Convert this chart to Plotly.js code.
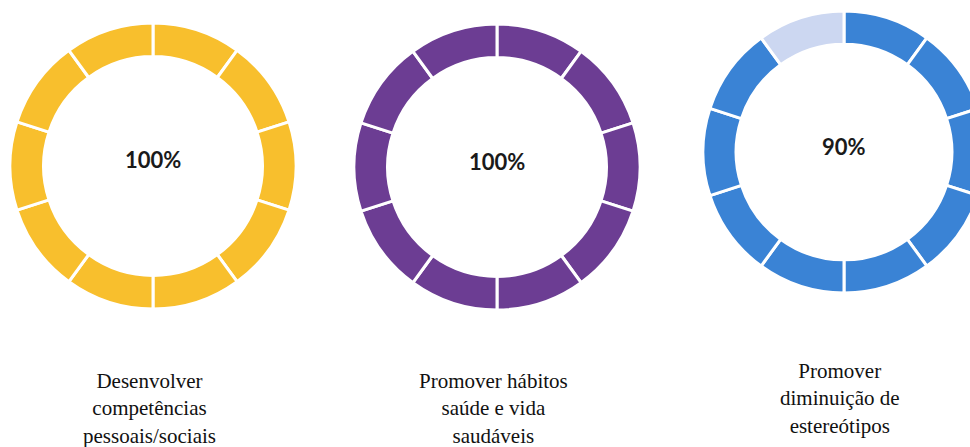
<!DOCTYPE html>
<html>
<head>
<meta charset="utf-8">
<script src="https://cdn.plot.ly/plotly-3.0.1.min.js"></script>
<style>
  html, body { margin: 0; padding: 0; background: #fff; overflow: hidden; }
  #myPlot { width: 1000px; height: 447px; }
</style>
</head>
<body>
<div id="myPlot"></div>
<script>
/**
 * Data
 */
const labels = [
  "Desenvolver<br>competências<br>pessoais/sociais",
  "Promover hábitos<br>saúde e vida<br>saudáveis",
  "Promover<br>diminuição de<br>estereótipos"
];
const percentages = [100, 100, 90];
const segmentValues = [1, 1, 1, 1, 1, 1, 1, 1, 1, 1];

const colors = {
  yellow: "#F8BF2D",
  purple: "#6C3D93",
  blue: "#3A83D5",
  blue_light: "#CCD7F1"
};
const fillColors = [colors.yellow, colors.purple, colors.blue];
const emptyColors = ["#FCE9B0", "#D9CCE5", colors.blue_light];

/**
 * Layout pieces (pixel positions in a 1000x447 canvas)
 */
const W = 1000;
const H = 447;
const centers = [[153, 166], [497, 167], [844, 152]];
const radius = [143, 143, 141];
const labelY = [408, 408, 398];

const data = percentages.map((pct, i) => {
  const [cx, cy] = centers[i];
  const r = radius[i];
  const filled = pct / 100 * segmentValues.length;
  return {
    type: "pie",
    values: segmentValues,
    labels: segmentValues.map((v, k) => "s" + k),
    sort: false,
    direction: "clockwise",
    rotation: 0,
    hole: 0.765,
    textinfo: "none",
    hoverinfo: "skip",
    showlegend: false,
    marker: {
      colors: segmentValues.map((v, k) => (k < filled ? fillColors[i] : emptyColors[i])),
      line: { color: "#ffffff", width: 3 }
    },
    domain: {
      x: [(cx - r) / W, (cx + r) / W],
      y: [(H - cy - r) / H, (H - cy + r) / H]
    }
  };
});

const annotations = [];
percentages.forEach((pct, i) => {
  const [cx, cy] = centers[i];
  annotations.push({
    text: "<b>" + pct + "%</b>",
    x: cx / W,
    y: (H - cy + 6) / H,
    xref: "paper",
    yref: "paper",
    showarrow: false,
    xanchor: "center",
    yanchor: "middle",
    font: { family: "Lato, 'Open Sans', sans-serif", size: 22, color: "#1a1a1a" }
  });
  annotations.push({
    text: labels[i],
    x: cx / W - 0.004,
    y: (H - labelY[i]) / H,
    xref: "paper",
    yref: "paper",
    showarrow: false,
    xanchor: "center",
    yanchor: "middle",
    align: "center",
    font: { family: "'Liberation Serif', 'Times New Roman', serif", size: 21, color: "#111111" }
  });
});

const layout = {
  width: W,
  height: H,
  margin: { l: 0, r: 0, t: 0, b: 0 },
  paper_bgcolor: "#ffffff",
  plot_bgcolor: "#ffffff",
  showlegend: false,
  annotations: annotations
};

Plotly.newPlot("myPlot", data, layout, { displayModeBar: false, staticPlot: true });
</script>
</body>
</html>
